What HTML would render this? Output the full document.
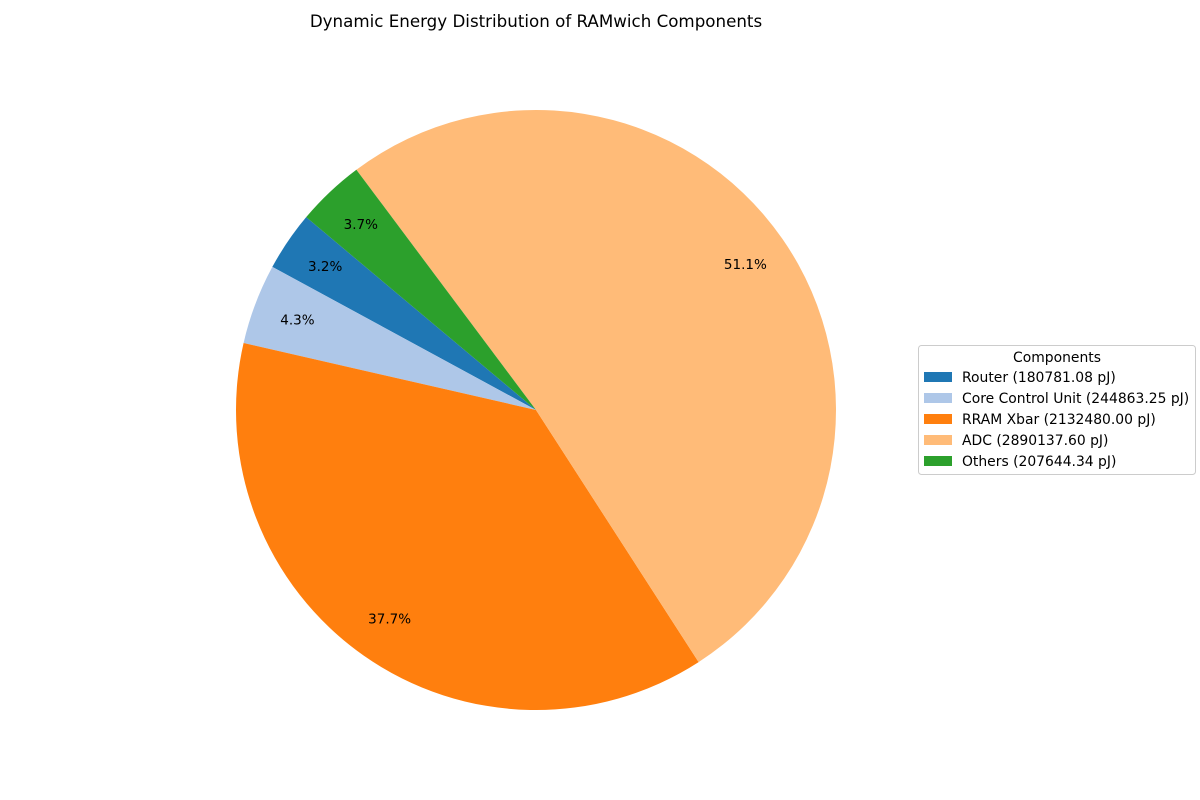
<!DOCTYPE html>
<html>
<head>
<meta charset="utf-8">
<style>
  html, body { margin:0; padding:0; background:#fff; }
  svg { display:block; font-family:"DejaVu Sans", "Liberation Sans", sans-serif; }
</style>
</head>
<body>
<svg id="chart" width="1200" height="800" viewBox="0 0 1200 800">
  <text x="536" y="27" text-anchor="middle" font-size="16.7" fill="#000">Dynamic Energy Distribution of RAMwich Components</text>
  <g id="wedges"></g>
  <g id="pcts"></g>
  <g id="legend">
    <rect x="918.5" y="345.5" width="277" height="129" rx="3" fill="#fff" stroke="#ccc"/>
    <text x="1057" y="362" text-anchor="middle" font-size="13.9" fill="#000">Components</text>
  </g>
</svg>
<script>
const labels = ["Router", "Core Control Unit", "RRAM Xbar", "ADC", "Others"];
const values = [180781.08, 244863.25, 2132480.00, 2890137.60, 207644.34];
const colors = ["#1f77b4", "#aec7e8", "#ff7f0e", "#ffbb78", "#2ca02c"];
const startAngle = 140;
const pctDistance = 0.85;

const cx = 536, cy = 410, R = 300;
const NS = "http://www.w3.org/2000/svg";
const total = values.reduce((a, b) => a + b, 0);
const wedgeG = document.getElementById("wedges");
const pctG = document.getElementById("pcts");
const legG = document.getElementById("legend");
function pt(deg, r) {
  const a = deg * Math.PI / 180;
  return [cx + r * Math.cos(a), cy - r * Math.sin(a)];
}
let a0 = startAngle;
values.forEach((v, i) => {
  const sweep = v / total * 360;
  const a1 = a0 + sweep;
  const p0 = pt(a0, R), p1 = pt(a1, R);
  const large = sweep > 180 ? 1 : 0;
  const path = document.createElementNS(NS, "path");
  path.setAttribute("d", `M${cx},${cy} L${p0[0]},${p0[1]} A${R},${R} 0 ${large} 0 ${p1[0]},${p1[1]} Z`);
  path.setAttribute("fill", colors[i]);
  
  
  wedgeG.appendChild(path);
  const mid = (a0 + a1) / 2;
  const lp = pt(mid, R * pctDistance);
  const t = document.createElementNS(NS, "text");
  t.setAttribute("x", lp[0]);
  t.setAttribute("y", lp[1] + 4.5);
  t.setAttribute("text-anchor", "middle");
  t.setAttribute("font-size", "13.5");
  t.textContent = (v / total * 100).toFixed(1) + "%";
  
  
  pctG.appendChild(t);
  a0 = a1;
  const y = 372 + i * 21;
  const r = document.createElementNS(NS, "rect");
  r.setAttribute("x", 924); r.setAttribute("y", y);
  r.setAttribute("width", 28); r.setAttribute("height", 10);
  r.setAttribute("fill", colors[i]);
  
  
  legG.appendChild(r);
  const lt = document.createElementNS(NS, "text");
  lt.setAttribute("x", 962); lt.setAttribute("y", y + 10);
  lt.setAttribute("font-size", "13.9");
  lt.textContent = labels[i] + " (" + v.toFixed(2) + " pJ)";
  
  
  legG.appendChild(lt);
});
</script>
</body>
</html>
